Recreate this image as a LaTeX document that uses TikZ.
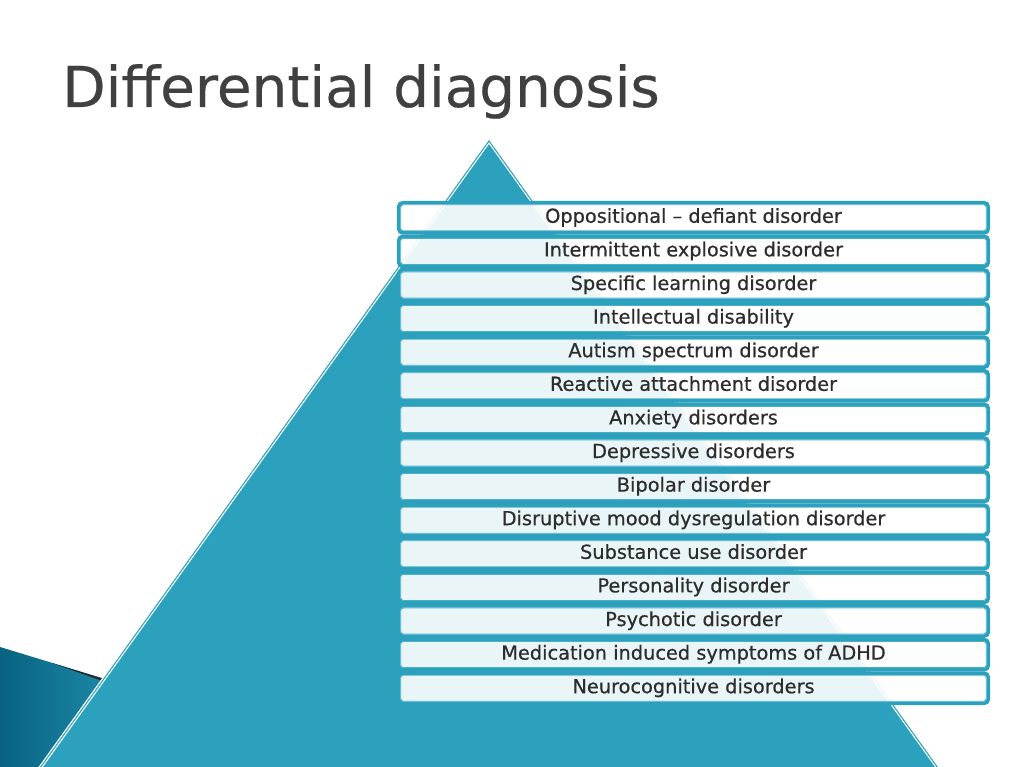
\documentclass[tikz,border=0pt]{standalone}
\usepackage{fontspec}
\setmainfont{DejaVu Sans}
\newfontfamily\dxfont{DejaVu Sans}[FakeBold=0.6]
\newfontfamily\titlefont{DejaVu Sans}[FakeBold=0.4]
\definecolor{pyrteal}{RGB}{44,161,190}
\definecolor{ribdark}{RGB}{8,98,128}
\definecolor{riblight}{RGB}{30,138,170}
\definecolor{titlegray}{RGB}{64,64,64}
\definecolor{boxtext}{RGB}{45,45,45}
\tikzset{
  dxbox/.style={rectangle, rounded corners=3pt, draw=pyrteal, line width=2.6pt,
    fill=white, fill opacity=0.9, text opacity=1, text=boxtext,
    minimum width=442.2pt, minimum height=22.65pt, inner sep=0pt,
    text height=10.5pt, text depth=3pt,
    font=\dxfont\fontsize{14.5}{17}\selectfont},
  dxinner/.style={draw=pyrteal!85, line width=0.6pt, rounded corners=2pt}
}
\begin{document}
\begin{tikzpicture}[x=0.75pt,y=-0.75pt]
  \useasboundingbox (0,0) rectangle (1024,767);
  \clip (0,0) rectangle (1024,767);

  % Title
  \node[anchor=base west, inner sep=0pt, text=titlegray,
    font=\titlefont\fontsize{42.3}{50}\selectfont] (title) at (62,107) {Differential diagnosis};

  % Ribbon in the lower left corner
  \shade[left color=ribdark, right color=riblight]
    (0,647) -- (115,682) -- (115,767) -- (0,767) -- cycle;
  \fill[black!85] (52,663) -- (104,679) -- (104,681.5) -- cycle;

  % Pyramid
  \coordinate (apex) at (489,143);
  \coordinate (baseL) at (31.5,782);
  \coordinate (baseR) at (946.5,782);
  \draw[white, line width=4.5pt, line join=miter] (apex) -- (baseL) -- (baseR) -- cycle;
  \draw[fill=pyrteal, draw=pyrteal, line width=2.6pt, line join=miter] (apex) -- (baseL) -- (baseR) -- cycle;
  \draw[white, line width=0.8pt, line join=miter] (apex) -- (baseL) -- (baseR) -- cycle;

  % Stack of differential diagnoses
  \foreach \lbl [count=\i from 0] in {
      Oppositional – defiant disorder,
      Intermittent explosive disorder,
      Specific learning disorder,
      Intellectual disability,
      Autism spectrum disorder,
      Reactive attachment disorder,
      Anxiety disorders,
      Depressive disorders,
      Bipolar disorder,
      Disruptive mood dysregulation disorder,
      Substance use disorder,
      Personality disorder,
      Psychotic disorder,
      Medication induced symptoms of ADHD,
      Neurocognitive disorders} {
    \node[dxbox] (dx\i) at (693.5,{217.8+33.6*\i}) {\lbl};
    \draw[dxinner] ([shift={(3.8,3.8)}]dx\i.north west) rectangle ([shift={(-3.8,-3.8)}]dx\i.south east);
  }
\end{tikzpicture}
\end{document}
